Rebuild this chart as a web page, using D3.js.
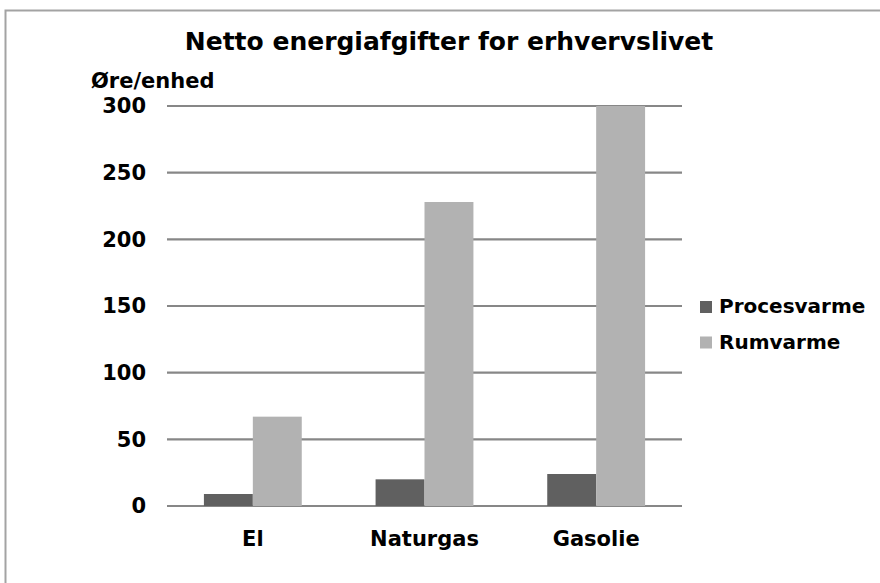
<!DOCTYPE html>
<html>
<head>
<meta charset="utf-8">
<script src="https://cdn.jsdelivr.net/npm/d3@7"></script>
<style>
  html, body { margin: 0; padding: 0; background: #fff; }
  svg { display: block; }
  text { font-family: "DejaVu Sans", Verdana, sans-serif; font-weight: bold; fill: #000; }
</style>
</head>
<body>
<svg id="chart" width="880" height="583"></svg>
<script>
const title = "Netto energiafgifter for erhvervslivet";
const yAxisTitle = "Øre/enhed";
const categories = ["El", "Naturgas", "Gasolie"];
const seriesNames = ["Procesvarme", "Rumvarme"];
const procesvarme = [9, 20, 24];
const rumvarme = [67, 228, 300];
const yTicks = [0, 50, 100, 150, 200, 250, 300];
const colors = ["#606060", "#b2b2b2"];

const seriesValues = [procesvarme, rumvarme];
const svg = d3.select("#chart");

// chart border
svg.append("rect")
  .attr("x", 5.5).attr("y", 10.5)
  .attr("width", 900).attr("height", 600)
  .attr("fill", "none").attr("stroke", "#a3a3a3").attr("stroke-width", 2);

const plot = { left: 167, right: 682, top: 106, bottom: 506 };

const x0 = d3.scaleBand().domain(categories)
  .range([plot.left, plot.right]).paddingInner(0.43).paddingOuter(0.215);
const x1 = d3.scaleBand().domain(seriesNames).range([0, x0.bandwidth()]);
const y = d3.scaleLinear().domain([0, 300]).range([plot.bottom, plot.top]);

// gridlines
svg.append("g").selectAll("line").data(yTicks).join("line")
  .attr("x1", plot.left).attr("x2", plot.right)
  .attr("y1", d => y(d)).attr("y2", d => y(d))
  .attr("stroke", "#878787").attr("stroke-width", 2.2);

// y tick labels via axis
const yAxis = d3.axisLeft(y).tickValues(yTicks).tickSize(0).tickPadding(0);
const yg = svg.append("g").attr("transform", `translate(${plot.left - 21},0)`).call(yAxis);
yg.select(".domain").remove();
yg.selectAll("text").attr("font-size", 21).attr("font-family", "DejaVu Sans").attr("font-weight", "bold").attr("fill", "#000");

// bars
const groups = svg.append("g").selectAll("g").data(categories).join("g")
  .attr("transform", d => `translate(${x0(d)},0)`);
groups.selectAll("rect")
  .data((c, i) => seriesNames.map((s, j) => ({ s, v: seriesValues[j][i], j })))
  .join("rect")
  .attr("x", d => x1(d.s))
  .attr("y", d => y(d.v))
  .attr("width", x1.bandwidth())
  .attr("height", d => y(0) - y(d.v))
  .attr("fill", d => colors[d.j]);

// x axis labels
const xAxis = d3.axisBottom(x0).tickSize(0).tickPadding(0);
const xg = svg.append("g").attr("transform", `translate(0,${plot.bottom + 25})`).call(xAxis);
xg.select(".domain").remove();
xg.selectAll("text").attr("font-size", 21).attr("font-family", "DejaVu Sans").attr("font-weight", "bold").attr("fill", "#000");

// title
svg.append("text").attr("x", 449).attr("y", 50).attr("text-anchor", "middle")
  .attr("font-size", 25).text(title);

// y axis title
svg.append("text").attr("x", 91).attr("y", 88).attr("font-size", 21).text(yAxisTitle);

// legend
const leg = svg.append("g").selectAll("g").data(seriesNames).join("g")
  .attr("transform", (d, i) => `translate(700,${301 + i * 35.5})`);
leg.append("rect").attr("width", 12).attr("height", 12).attr("fill", (d, i) => colors[i]);
leg.append("text").attr("x", 19).attr("y", 12).attr("font-size", 20).text(d => d);
</script>
</body>
</html>
